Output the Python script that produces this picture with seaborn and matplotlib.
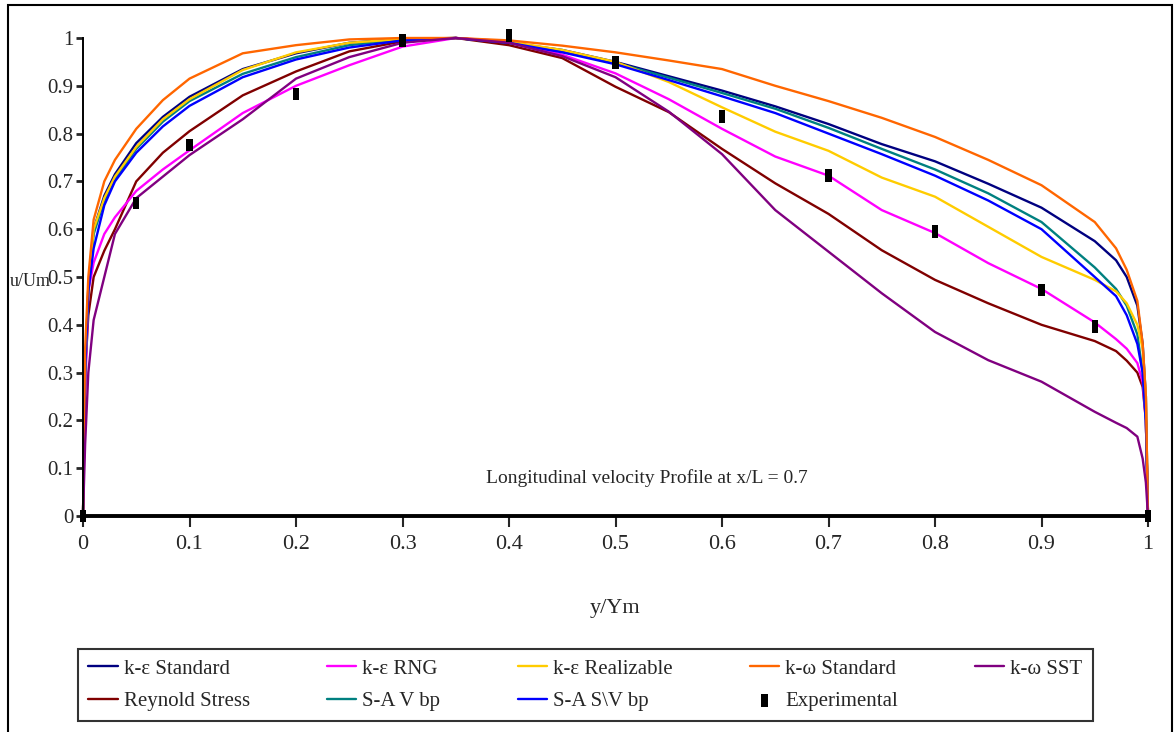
import seaborn as sns
import matplotlib.pyplot as plt
from matplotlib.patches import Rectangle

# y/Ym positions shared by every model curve
y_pos = [0, 0.002, 0.005, 0.01, 0.02, 0.03, 0.05, 0.075, 0.1, 0.15, 0.2, 0.25, 0.3, 0.35,
         0.4, 0.45, 0.5, 0.55, 0.6, 0.65, 0.7, 0.75, 0.8, 0.85, 0.9, 0.95, 0.97, 0.98,
         0.99, 0.995, 0.998, 1.0]

ke_standard = [0, 0.30, 0.48, 0.60, 0.67, 0.715, 0.78, 0.835, 0.877, 0.935, 0.968, 0.99, 0.998, 1.0,
               0.99, 0.975, 0.95, 0.92, 0.89, 0.857, 0.82, 0.778, 0.742, 0.695, 0.645, 0.575, 0.535, 0.50,
               0.44, 0.36, 0.25, 0]
ke_rng = [0, 0.25, 0.47, 0.53, 0.59, 0.625, 0.68, 0.725, 0.765, 0.843, 0.90, 0.943, 0.982, 1.0,
          0.993, 0.965, 0.926, 0.872, 0.81, 0.752, 0.712, 0.64, 0.592, 0.529, 0.475, 0.405, 0.37, 0.35,
          0.32, 0.28, 0.20, 0]
ke_realizable = [0, 0.30, 0.48, 0.60, 0.665, 0.71, 0.772, 0.83, 0.872, 0.933, 0.97, 0.99, 0.998, 1.0,
                 0.992, 0.975, 0.95, 0.908, 0.855, 0.804, 0.764, 0.708, 0.668, 0.605, 0.542, 0.494, 0.47, 0.445,
                 0.40, 0.35, 0.25, 0]
kw_standard = [0, 0.35, 0.50, 0.62, 0.70, 0.745, 0.81, 0.87, 0.915, 0.968, 0.985, 0.997, 1.0, 1.0,
               0.995, 0.984, 0.97, 0.953, 0.935, 0.90, 0.868, 0.833, 0.793, 0.745, 0.692, 0.615, 0.56, 0.515,
               0.45, 0.36, 0.25, 0]
kw_sst = [0, 0.15, 0.30, 0.41, 0.50, 0.59, 0.665, 0.71, 0.755, 0.83, 0.915, 0.96, 0.99, 1.0,
          0.99, 0.962, 0.918, 0.846, 0.757, 0.64, 0.553, 0.466, 0.385, 0.326, 0.281, 0.218, 0.195, 0.184,
          0.166, 0.12, 0.07, 0]
reynold_stress = [0, 0.30, 0.42, 0.50, 0.555, 0.60, 0.70, 0.76, 0.805, 0.88, 0.93, 0.972, 0.993, 1.0,
                  0.985, 0.958, 0.898, 0.845, 0.768, 0.696, 0.632, 0.556, 0.494, 0.445, 0.40, 0.366, 0.345, 0.325,
                  0.30, 0.27, 0.20, 0]
sa_vbp = [0, 0.30, 0.47, 0.59, 0.66, 0.705, 0.768, 0.825, 0.868, 0.925, 0.96, 0.985, 0.997, 1.0,
          0.99, 0.973, 0.948, 0.917, 0.885, 0.852, 0.812, 0.768, 0.725, 0.675, 0.615, 0.52, 0.475, 0.44,
          0.38, 0.30, 0.20, 0]
sa_svbp = [0, 0.30, 0.47, 0.56, 0.65, 0.70, 0.76, 0.815, 0.858, 0.918, 0.955, 0.98, 0.995, 1.0,
           0.99, 0.97, 0.945, 0.912, 0.878, 0.843, 0.80, 0.757, 0.712, 0.66, 0.60, 0.50, 0.46, 0.42,
           0.36, 0.30, 0.20, 0]

exp_y = [0, 0.05, 0.1, 0.2, 0.3, 0.4, 0.5, 0.6, 0.7, 0.8, 0.9, 0.95, 1.0]
exp_u = [0, 0.655, 0.776, 0.883, 0.994, 1.005, 0.948, 0.835, 0.713, 0.596, 0.473, 0.397, 0]

sns.set_style("white")
plt.rcParams['font.family'] = ['Liberation Serif', 'DejaVu Serif']

fig = plt.figure(figsize=(11.75, 7.32), dpi=100)
ax = fig.add_axes([83 / 1175, 216 / 732, 1065 / 1175, 478 / 732])

curves = [
    ("k-ε Standard", ke_standard, "#000080"),
    ("Reynold Stress", reynold_stress, "#800000"),
    ("k-ε RNG", ke_rng, "#FF00FF"),
    ("S-A V bp", sa_vbp, "#008080"),
    ("k-ε Realizable", ke_realizable, "#FFCC00"),
    ("S-A S\\V bp", sa_svbp, "#0000FF"),
    ("k-ω Standard", kw_standard, "#FF6600"),
    ("k-ω SST", kw_sst, "#800080"),
]
for name, vals, col in curves:
    sns.lineplot(x=y_pos, y=vals, color=col, lw=1.7, label=name, ax=ax, clip_on=False)

rect = [(-0.5, -1), (0.5, -1), (0.5, 1), (-0.5, 1), (-0.5, -1)]
sns.scatterplot(x=exp_y, y=exp_u, marker=rect, s=85, color="black", edgecolor="none",
                label="Experimental", ax=ax, clip_on=False, zorder=5)

ax.set_xlim(0, 1)
ax.set_ylim(0, 1)
ticks = [i / 10 for i in range(11)]
tick_labels = ["0"] + [f"{t:.1f}" for t in ticks[1:-1]] + ["1"]
ax.set_xticks(ticks, tick_labels)
ax.set_yticks(ticks, tick_labels)
ax.tick_params(axis="x", direction="out", length=8, width=1.5, pad=6, labelsize=16, bottom=True)
ax.tick_params(axis="y", direction="out", length=5, width=2, pad=2, labelsize=15, left=True)
for s in ["top", "right"]:
    ax.spines[s].set_visible(False)
ax.spines["left"].set_linewidth(1.4)
ax.spines["bottom"].set_linewidth(2.8)
ax.spines["left"].set_color("black")
ax.spines["bottom"].set_color("black")

ax.set_xlabel("y/Ym", fontsize=16, labelpad=32)
ax.set_ylabel("")
fig.text(10 / 1175, (732 - 282) / 732, "u/Um", fontsize=13, ha="left", va="center")
ax.text(0.529, 0.08, "Longitudinal velocity Profile at x/L = 0.7", fontsize=14,
        ha="center", va="center")

handles, labels = ax.get_legend_handles_labels()
ax.get_legend().remove()
order = ["k-ε Standard", "Reynold Stress", "k-ε RNG", "S-A V bp", "k-ε Realizable",
         "S-A S\\V bp", "k-ω Standard", "Experimental", "k-ω SST"]
hmap = dict(zip(labels, handles))
leg = fig.legend([hmap[o] for o in order], order, ncol=5, mode="expand",
                 bbox_to_anchor=(78 / 1175, 4 / 732, 1015 / 1175, 86 / 732), loc="center",
                 fontsize=15, frameon=True, fancybox=False, edgecolor="black",
                 handlelength=1.4, handletextpad=0.3, labelspacing=0.6, borderpad=0.5,
                 borderaxespad=0)
leg.get_frame().set_linewidth(1.5)

fig.patches.append(Rectangle((8 / 1175, -0.01), 1164 / 1175, (727 / 732) + 0.01, fill=False,
                             edgecolor="black", lw=1.5, transform=fig.transFigure, figure=fig))

fig.savefig("out.png", dpi=100)
